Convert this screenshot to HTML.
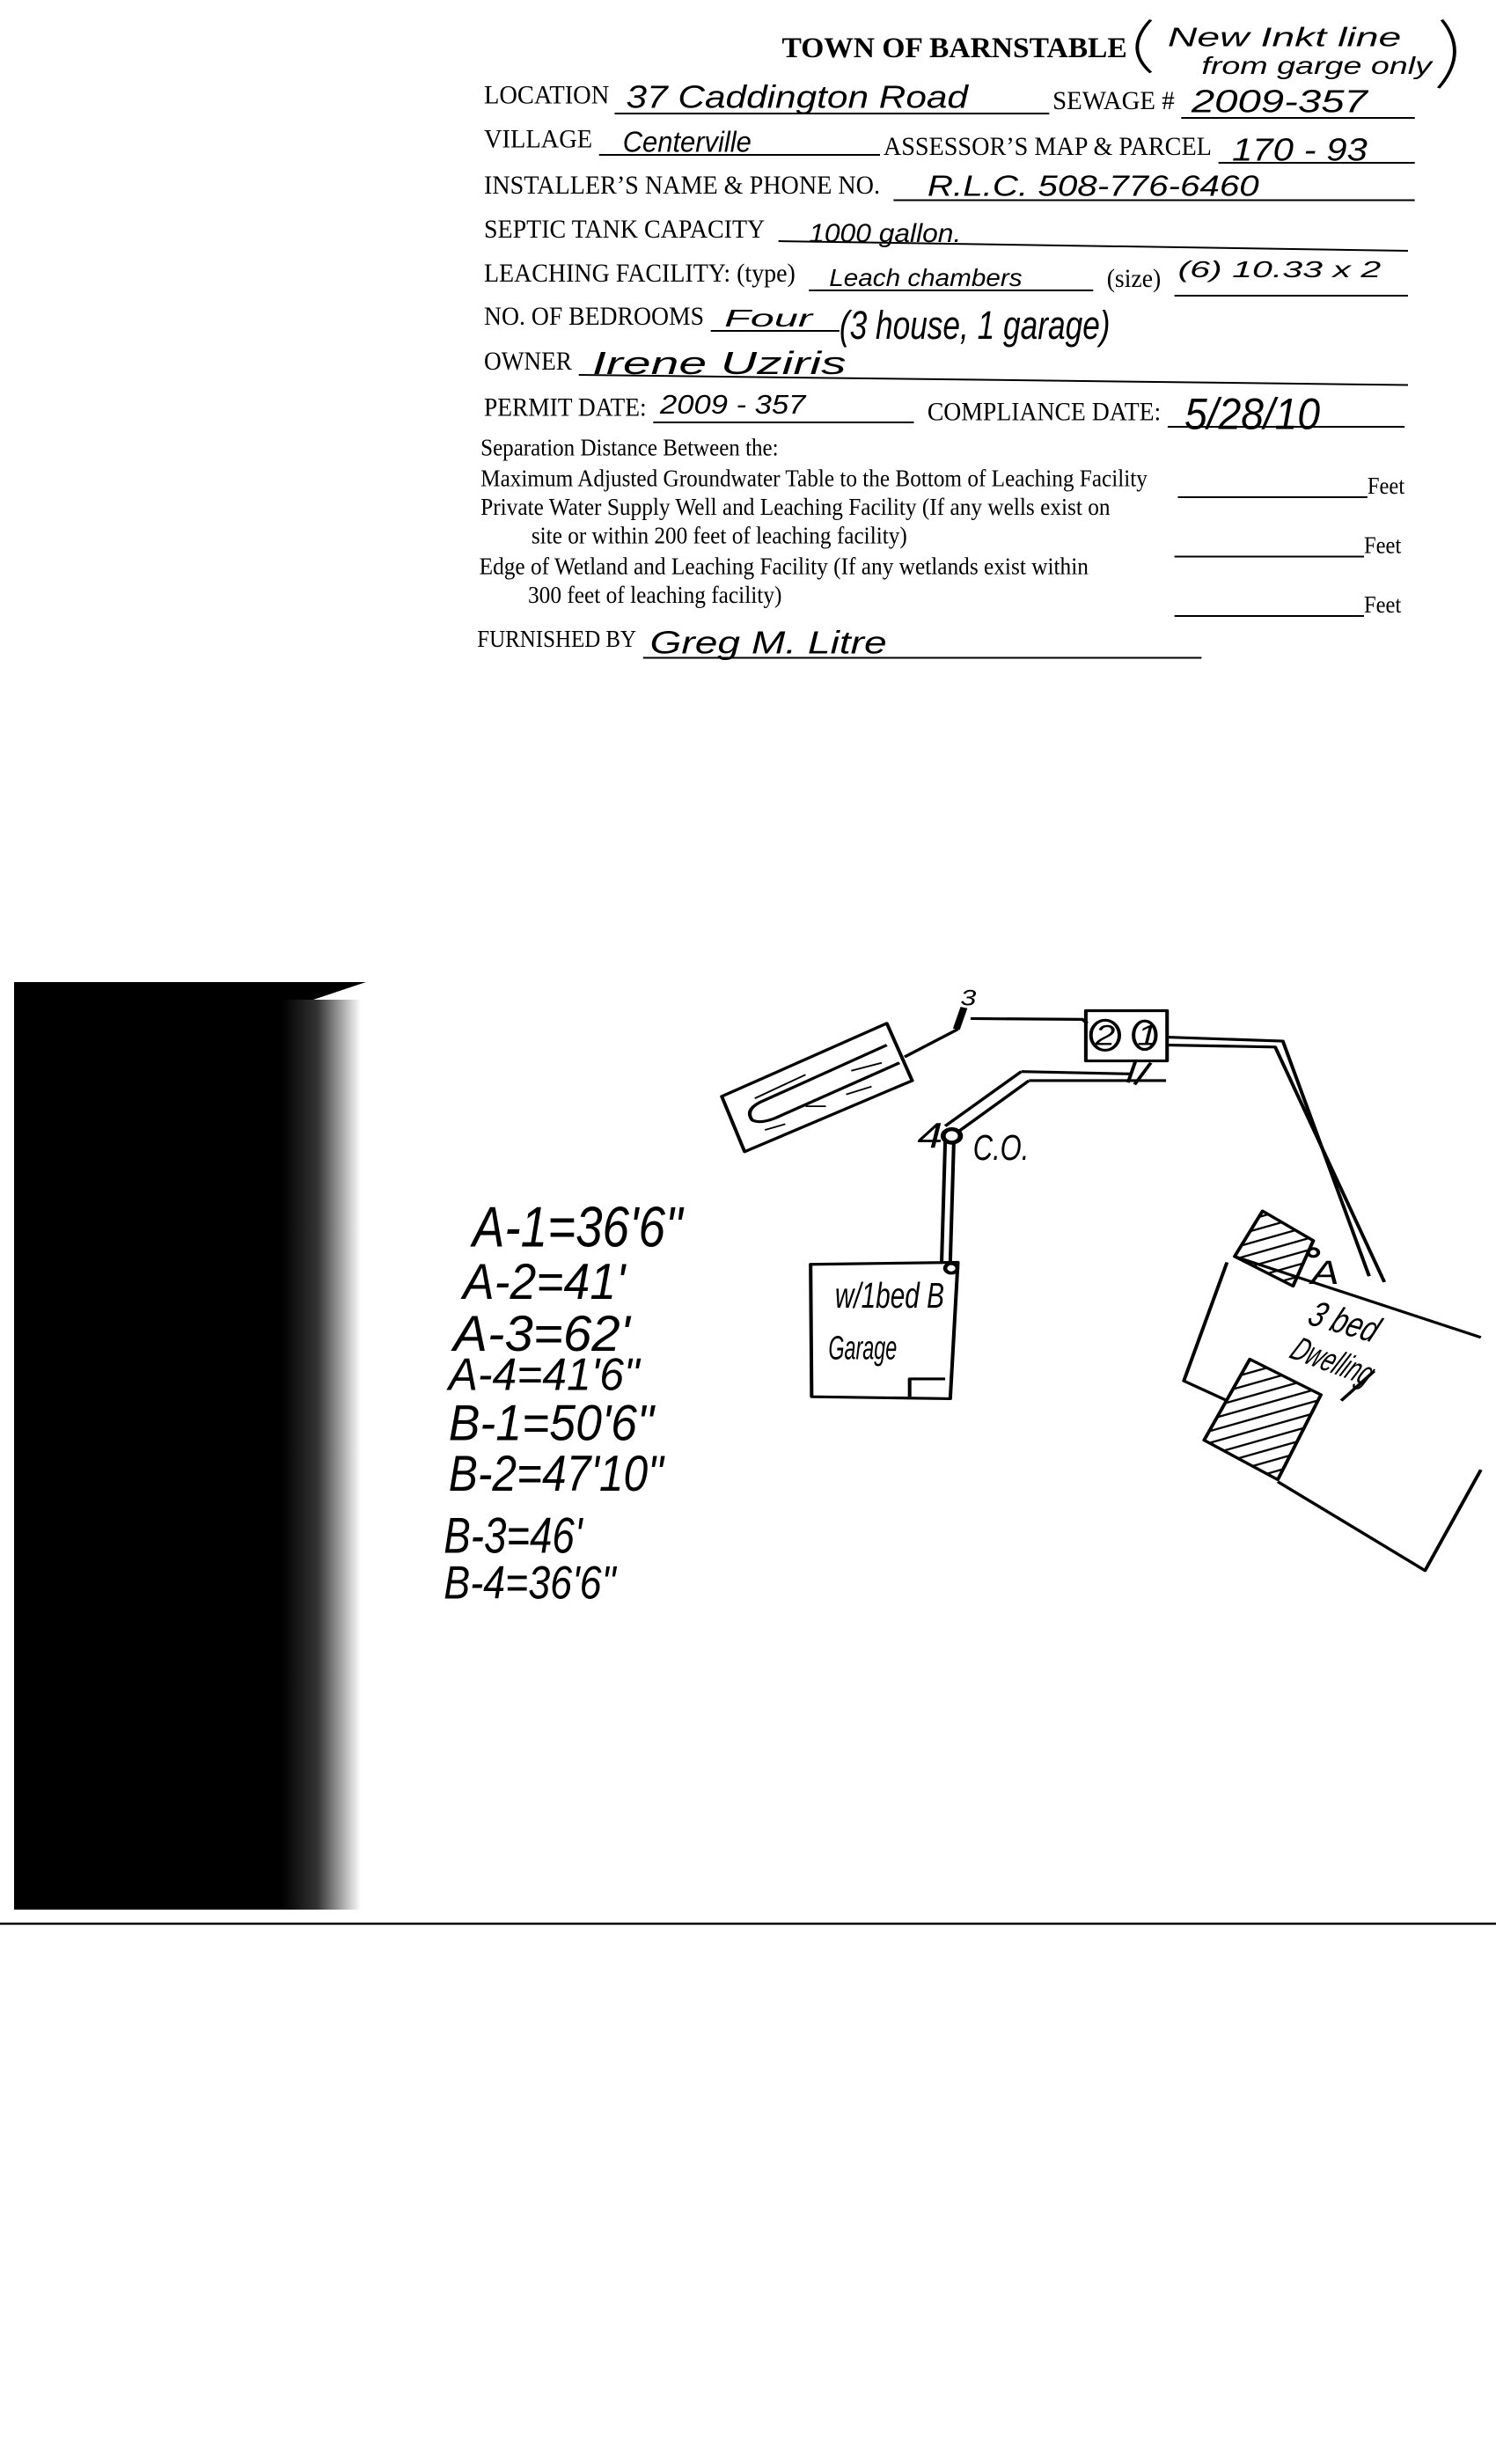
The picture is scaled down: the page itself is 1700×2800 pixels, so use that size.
<!DOCTYPE html>
<html><head><meta charset="utf-8"><style>
html,body{margin:0;padding:0;background:#fff;}
svg{display:block;}
.f{font-family:"Liberation Serif",serif;fill:#000;}
.h{font-family:"Liberation Sans",sans-serif;font-style:italic;fill:#000;}
</style></head><body>
<svg width="1700" height="2800" viewBox="0 0 1700 2800" xmlns="http://www.w3.org/2000/svg">
<defs>
<linearGradient id="g" x1="0" x2="1" y1="0" y2="0">
<stop offset="0" stop-color="#000"/><stop offset="0.45" stop-color="#333"/><stop offset="1" stop-color="#fff"/>
</linearGradient>
<pattern id="hatch" width="28" height="28" patternUnits="userSpaceOnUse" patternTransform="rotate(-20)">
<line x1="0" y1="14" x2="28" y2="14" stroke="#000" stroke-width="5"/>
</pattern>
</defs>
<rect width="1700" height="2800" fill="#fff"/>

<!-- FORM -->
<g transform="translate(500,0) scale(0.76923,0.5)">
<text class="f" x="505" y="130" font-size="66" font-weight="bold" textLength="510" lengthAdjust="spacingAndGlyphs">TOWN OF BARNSTABLE</text>
<path d="M1050,45 Q1010,110 1050,165" fill="none" stroke="#000" stroke-width="5"/>
<path d="M1480,45 Q1520,120 1475,200" fill="none" stroke="#000" stroke-width="5"/>
<text class="h" x="1075" y="105" font-size="62" textLength="345" lengthAdjust="spacingAndGlyphs">New Inkt line</text>
<text class="h" x="1125" y="168" font-size="56" textLength="340" lengthAdjust="spacingAndGlyphs">from garge only</text>

<g class="f" font-size="60">
<text x="65" y="235" textLength="185" lengthAdjust="spacingAndGlyphs">LOCATION</text>
<text x="905" y="248" textLength="180" lengthAdjust="spacingAndGlyphs">SEWAGE #</text>
<text x="65" y="335" textLength="160" lengthAdjust="spacingAndGlyphs">VILLAGE</text>
<text x="655" y="352" textLength="485" lengthAdjust="spacingAndGlyphs">ASSESSOR’S MAP &amp; PARCEL</text>
<text x="65" y="440" textLength="585" lengthAdjust="spacingAndGlyphs">INSTALLER’S NAME &amp; PHONE NO.</text>
<text x="65" y="540" textLength="415" lengthAdjust="spacingAndGlyphs">SEPTIC TANK CAPACITY</text>
<text x="65" y="640" textLength="460" lengthAdjust="spacingAndGlyphs">LEACHING FACILITY: (type)</text>
<text x="985" y="652" textLength="80" lengthAdjust="spacingAndGlyphs">(size)</text>
<text x="65" y="738" textLength="325" lengthAdjust="spacingAndGlyphs">NO. OF BEDROOMS</text>
<text x="65" y="840" textLength="130" lengthAdjust="spacingAndGlyphs">OWNER</text>
<text x="65" y="945" textLength="240" lengthAdjust="spacingAndGlyphs">PERMIT DATE:</text>
<text x="720" y="955" textLength="345" lengthAdjust="spacingAndGlyphs">COMPLIANCE DATE:</text>
</g>
<g class="f" font-size="54">
<text x="60" y="1035" textLength="440" lengthAdjust="spacingAndGlyphs">Separation Distance Between the:</text>
<text x="60" y="1105" textLength="985" lengthAdjust="spacingAndGlyphs">Maximum Adjusted Groundwater Table to the Bottom of Leaching Facility</text>
<text x="1370" y="1122" textLength="55" lengthAdjust="spacingAndGlyphs">Feet</text>
<text x="60" y="1170" textLength="930" lengthAdjust="spacingAndGlyphs">Private Water Supply Well and Leaching Facility (If any wells exist on</text>
<text x="135" y="1235" textLength="555" lengthAdjust="spacingAndGlyphs">site or within 200 feet of leaching facility)</text>
<text x="1365" y="1257" textLength="55" lengthAdjust="spacingAndGlyphs">Feet</text>
<text x="58" y="1305" textLength="900" lengthAdjust="spacingAndGlyphs">Edge of Wetland and Leaching Facility (If any wetlands exist within</text>
<text x="130" y="1370" textLength="375" lengthAdjust="spacingAndGlyphs">300 feet of leaching facility)</text>
<text x="1365" y="1392" textLength="55" lengthAdjust="spacingAndGlyphs">Feet</text>
<text x="55" y="1470" textLength="235" lengthAdjust="spacingAndGlyphs">FURNISHED BY</text>
</g>
<g stroke="#000" stroke-width="4">
<line x1="258" y1="258" x2="900" y2="258"/>
<line x1="1095" y1="268" x2="1440" y2="268"/>
<line x1="235" y1="352" x2="650" y2="352"/>
<line x1="1150" y1="370" x2="1440" y2="370"/>
<line x1="670" y1="455" x2="1440" y2="455"/>
<line x1="500" y1="548" x2="1430" y2="570"/>
<line x1="545" y1="660" x2="965" y2="660"/>
<line x1="1085" y1="672" x2="1430" y2="672"/>
<line x1="400" y1="752" x2="590" y2="752"/>
<line x1="205" y1="852" x2="1430" y2="875"/>
<line x1="315" y1="960" x2="700" y2="960"/>
<line x1="1075" y1="970" x2="1425" y2="970"/>
<line x1="1090" y1="1130" x2="1370" y2="1130"/>
<line x1="1085" y1="1265" x2="1365" y2="1265"/>
<line x1="1085" y1="1400" x2="1365" y2="1400"/>
<line x1="300" y1="1495" x2="1125" y2="1495"/>
</g>
<g class="h">
<text x="275" y="245" font-size="72" textLength="505" lengthAdjust="spacingAndGlyphs">37  Caddington Road</text>
<text x="1110" y="255" font-size="72" textLength="260" lengthAdjust="spacingAndGlyphs">2009-357</text>
<text x="270" y="345" font-size="66" textLength="190" lengthAdjust="spacingAndGlyphs">Centerville</text>
<text x="1170" y="365" font-size="72" textLength="200" lengthAdjust="spacingAndGlyphs">170 - 93</text>
<text x="720" y="445" font-size="66" textLength="490" lengthAdjust="spacingAndGlyphs">R.L.C.   508-776-6460</text>
<text x="545" y="550" font-size="60" textLength="225" lengthAdjust="spacingAndGlyphs">1000 gallon.</text>
<text x="575" y="650" font-size="56" textLength="285" lengthAdjust="spacingAndGlyphs">Leach chambers</text>
<text x="1090" y="630" font-size="52" textLength="300" lengthAdjust="spacingAndGlyphs">(6) 10.33 x 2</text>
<text x="420" y="742" font-size="56" textLength="130" lengthAdjust="spacingAndGlyphs">Four</text>
<text x="590" y="770" font-size="90" textLength="400" lengthAdjust="spacingAndGlyphs">(3 house, 1 garage)</text>
<text x="225" y="850" font-size="72" textLength="375" lengthAdjust="spacingAndGlyphs">Irene Uziris</text>
<text x="325" y="940" font-size="62" textLength="215" lengthAdjust="spacingAndGlyphs">2009 - 357</text>
<text x="1100" y="975" font-size="100" textLength="200" lengthAdjust="spacingAndGlyphs">5/28/10</text>
<text x="310" y="1485" font-size="72" textLength="350" lengthAdjust="spacingAndGlyphs">Greg M. Litre</text>
</g>
</g>

<!-- black scan edge -->
<polygon points="16,1116 416,1116 356,1136 330,1180 330,2170 16,2170" fill="#000"/>
<rect x="320" y="1136" width="90" height="1034" fill="url(#g)"/>
<line x1="0" y1="2186" x2="1700" y2="2186" stroke="#000" stroke-width="2.5"/>

<!-- measurements list -->
<g transform="translate(0,1080) scale(1.0845,0.74)" class="h">
<text x="495" y="455" font-size="88" textLength="220" lengthAdjust="spacingAndGlyphs">A-1=36'6"</text>
<text x="485" y="535" font-size="78" textLength="170" lengthAdjust="spacingAndGlyphs">A-2=41'</text>
<text x="475" y="615" font-size="78" textLength="185" lengthAdjust="spacingAndGlyphs">A-3=62'</text>
<text x="470" y="675" font-size="70" textLength="200" lengthAdjust="spacingAndGlyphs">A-4=41'6"</text>
<text x="470" y="752" font-size="78" textLength="215" lengthAdjust="spacingAndGlyphs">B-1=50'6"</text>
<text x="470" y="830" font-size="78" textLength="225" lengthAdjust="spacingAndGlyphs">B-2=47'10"</text>
<text x="465" y="925" font-size="78" textLength="145" lengthAdjust="spacingAndGlyphs">B-3=46'</text>
<text x="465" y="995" font-size="72" textLength="180" lengthAdjust="spacingAndGlyphs">B-4=36'6"</text>
</g>

<!-- diagram -->
<g transform="translate(800,1100) scale(0.577,0.449)" fill="none" stroke="#000" stroke-width="7" stroke-linejoin="round">
<polygon points="35,325 360,140 410,285 80,465"/>
<path d="M360,195 L110,340 Q80,360 95,385 Q110,395 140,380 L385,240"/>
<path d="M100,330 Q150,300 200,270 M290,260 L350,240 M120,410 L160,395 M200,350 L240,350 M280,320 L330,300" stroke-width="4"/>
<line x1="395" y1="225" x2="500" y2="155"/>
<line x1="497" y1="155" x2="512" y2="100" stroke-width="14"/>
<path d="M525,128 L745,130 L755,140"/>
<rect x="752" y="108" width="160" height="127"/>
<ellipse cx="790" cy="170" rx="28" ry="38"/>
<ellipse cx="868" cy="170" rx="22" ry="36"/>
<path d="M912,175 L1140,185 L1310,780"/>
<path d="M912,195 L1125,200 L1340,795"/>
<path d="M625,262 L840,268 M640,285 L910,285"/>
<path d="M625,262 L475,400 M640,285 L500,415"/>
<path d="M850,235 L835,290 M880,240 L848,295"/>
<circle cx="488" cy="425" r="17" stroke-width="10"/>
<path d="M475,440 L468,745 M492,440 L485,745"/>
<polygon points="210,750 500,745 485,1090 212,1085"/>
<polyline points="405,1085 405,1040 475,1040"/>
<circle cx="487" cy="760" r="12" stroke-width="8"/>
<polygon points="1100,615 1200,690 1160,805 1045,730" fill="url(#hatch)"/>
<polygon points="1075,990 1215,1080 1130,1295 985,1195" fill="url(#hatch)"/>
<path d="M1045,730 L1530,935 M1030,745 L945,1045 L1030,1095 M1130,1300 L1420,1525 L1530,1270"/>
<circle cx="1200" cy="720" r="10" stroke-width="7"/>
<line x1="1255" y1="1095" x2="1320" y2="1020"/>
</g>
<g transform="translate(800,1100) scale(0.577,0.449)" class="h">
<text x="505" y="95" font-size="56">3</text>
<text x="420" y="455" font-size="90">4</text>
<text x="530" y="485" font-size="90" textLength="110" lengthAdjust="spacingAndGlyphs">C.O.</text>
<text x="770" y="195" font-size="72">2</text>
<text x="853" y="195" font-size="72">1</text>
<text x="258" y="860" font-size="90" textLength="215" lengthAdjust="spacingAndGlyphs">w/1bed B</text>
<text x="245" y="990" font-size="84" textLength="135" lengthAdjust="spacingAndGlyphs">Garage</text>
<text x="1195" y="800" font-size="84">A</text>
<text x="1185" y="900" font-size="90" transform="rotate(20 1185 900)" textLength="140" lengthAdjust="spacingAndGlyphs">3 bed</text>
<text x="1150" y="985" font-size="84" transform="rotate(25 1150 985)" textLength="170" lengthAdjust="spacingAndGlyphs">Dwelling</text>
</g>
</svg>
</body></html>
